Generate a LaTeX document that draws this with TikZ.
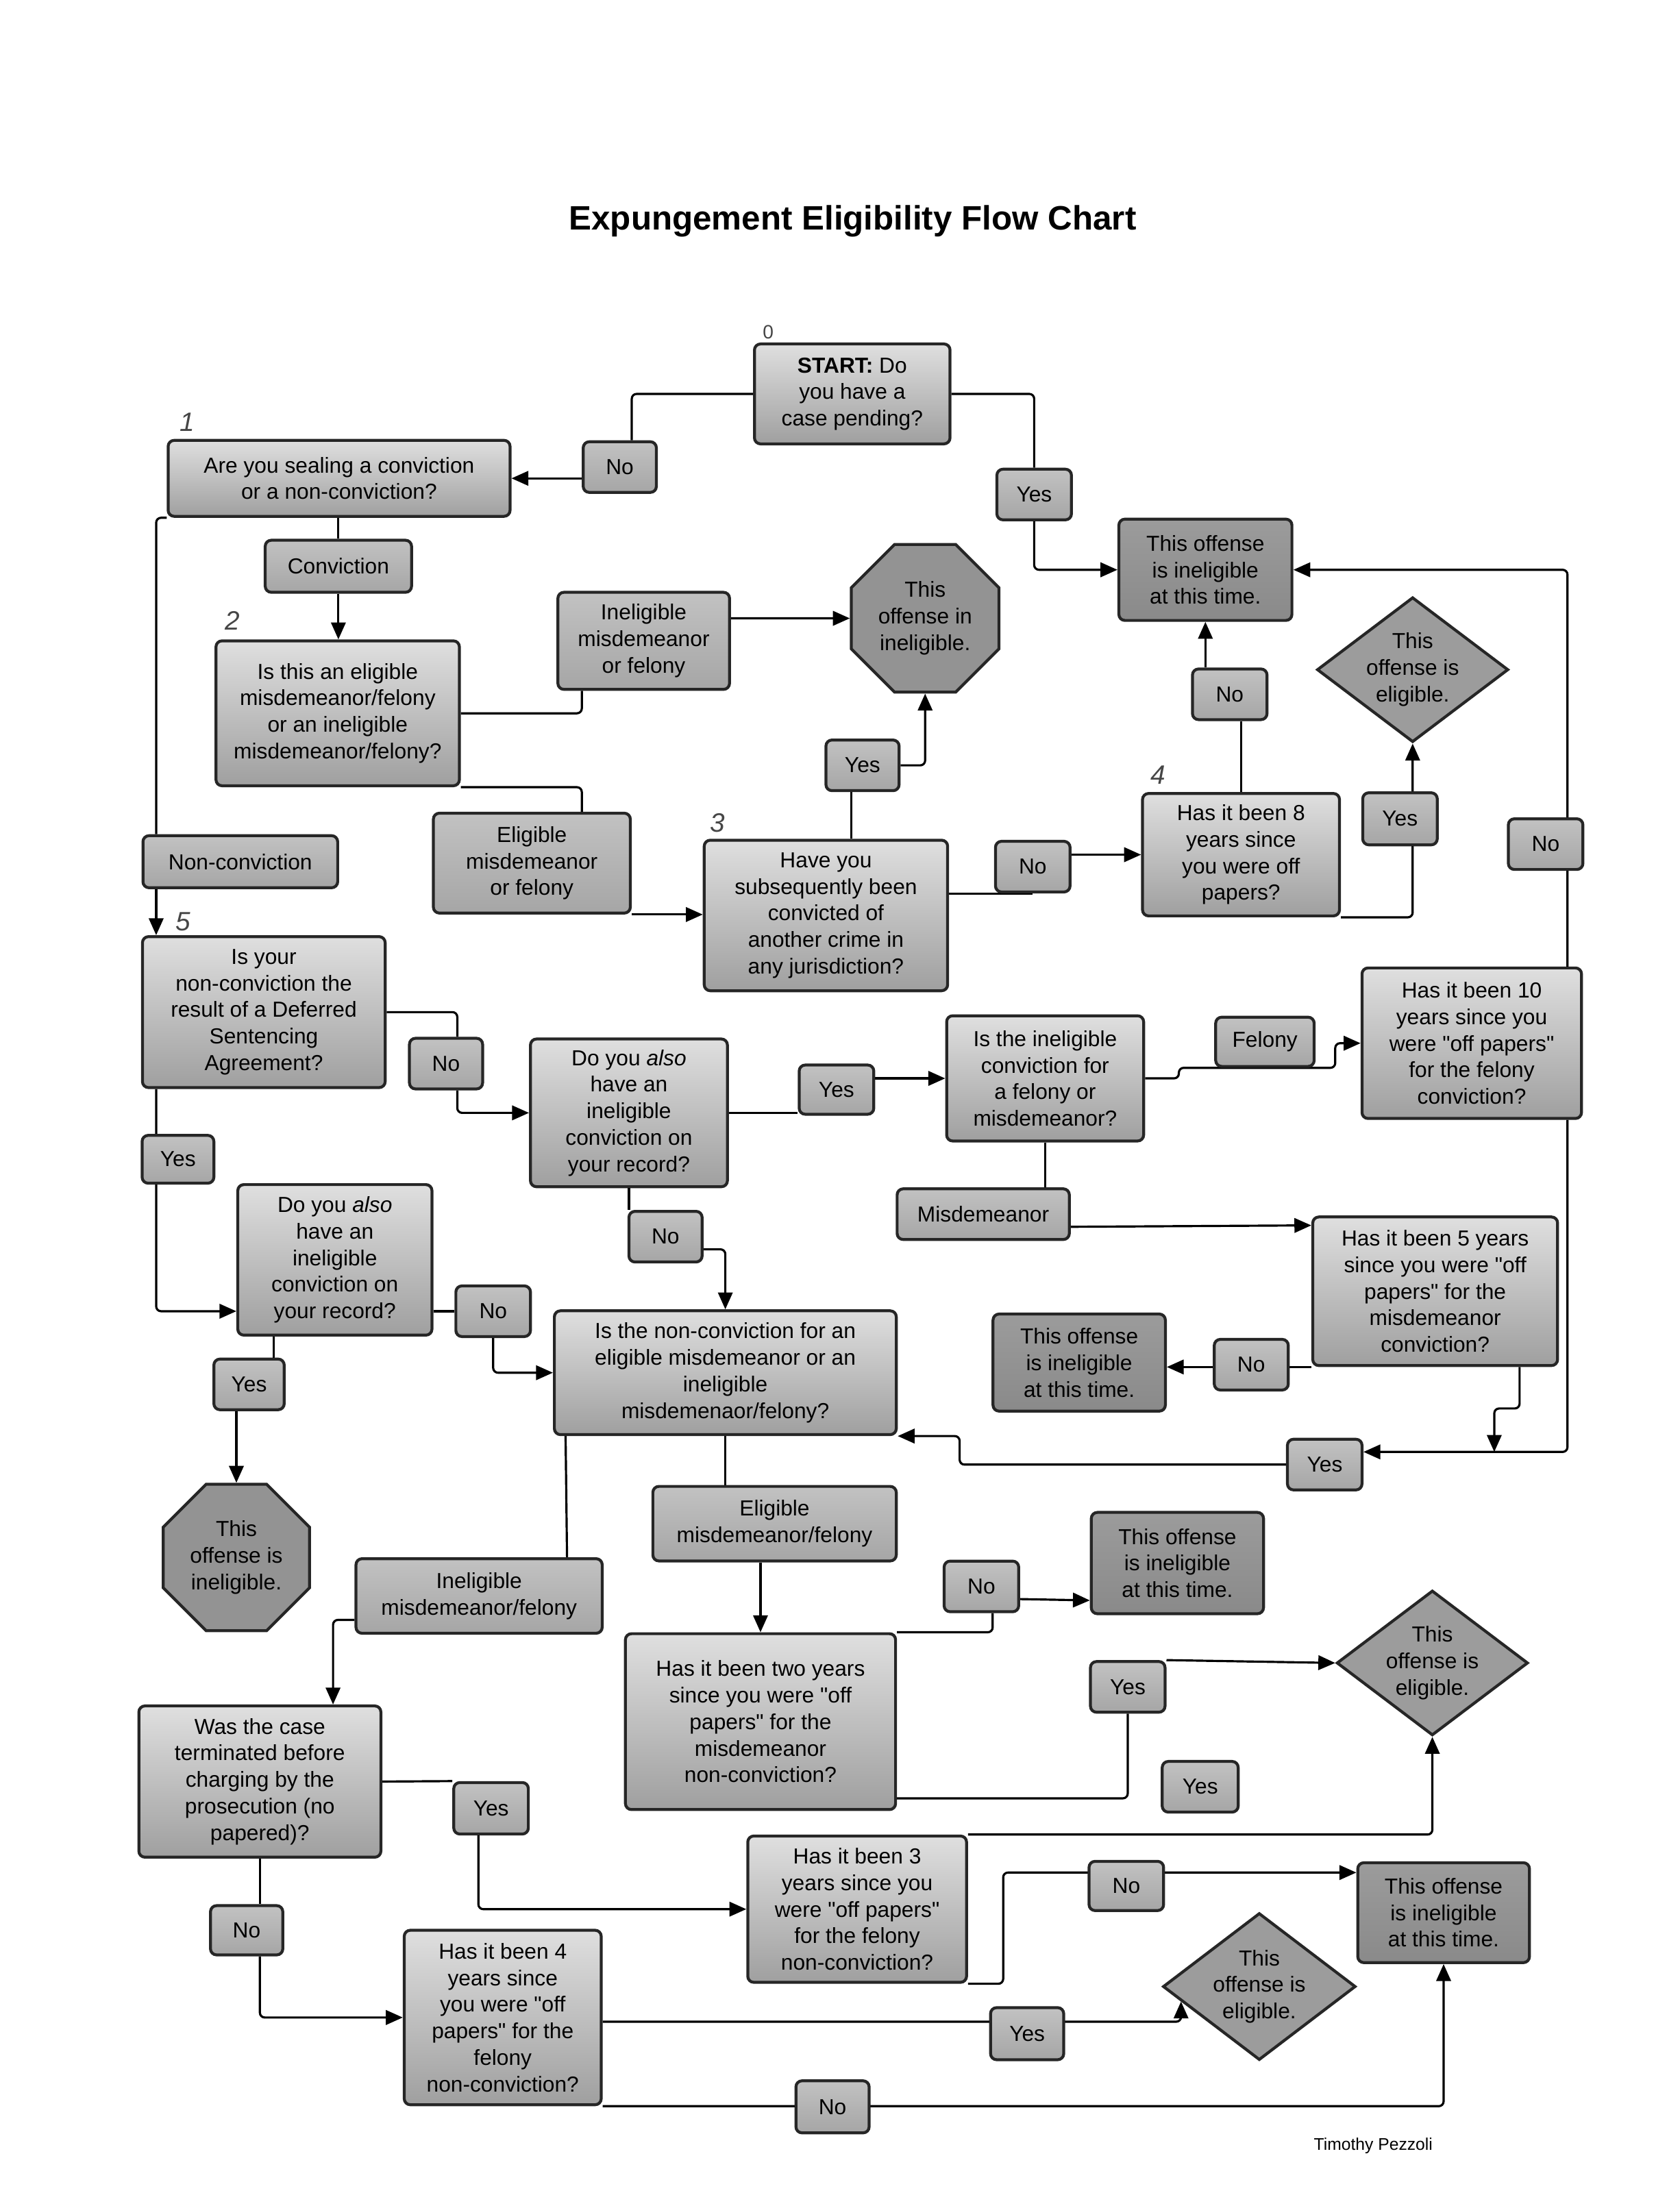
\documentclass[tikz,border=0pt]{standalone}
\usepackage{fontspec}
\setmainfont{Liberation Sans}[Ligatures=TeXOff]
\usepackage{tikz}
\usetikzlibrary{arrows.meta, positioning, shapes.geometric, calc, backgrounds}
\newcommand{\qq}{\symbol{34}}

\begin{document}
\begin{tikzpicture}[
    x=0.5827pt, y=-0.5827pt,
    every node/.style={font=\fontsize{9}{11}\selectfont, align=center, inner sep=2pt},
    sz/.style 2 args={minimum width=#1*0.5827pt, minimum height=#2*0.5827pt},
    qbox/.style={rectangle, rounded corners=2.5pt, draw=black!85, line width=1.2pt, top color=gray!25, bottom color=gray!75},
    tag/.style={rectangle, rounded corners=2.5pt, draw=black!85, line width=1.2pt, top color=gray!48, bottom color=gray!70},
    endbox/.style={rectangle, rounded corners=2.5pt, draw=black!85, line width=1.2pt, top color=gray!78, bottom color=gray!92},
    octa/.style={regular polygon, regular polygon sides=8, draw=black!85, line width=1.2pt, fill=gray!85, inner sep=0pt, minimum size=#1*0.5827pt},
    okdia/.style={diamond, aspect=1.32, draw=black!85, line width=1.2pt, fill=gray!78, inner sep=0pt},
    hand/.style={font=\fontsize{11}{11}\selectfont\itshape, text=gray!55!black},
    link/.style={line width=0.9pt, rounded corners=2pt},
    arrow/.style={link, -{Triangle[length=7pt, width=6pt]}}
]
\useasboundingbox (0,0) rectangle (1194,1568);

% Title
\node (title) [font=\fontsize{14}{16}\selectfont\bfseries] at (606,157) {Expungement Eligibility Flow Chart};

% Nodes: top part
\node (start) [qbox, sz={139}{71}] at (605.7,280) {\textbf{START:} Do\\you have a\\case pending?};
\node (no0) [tag, sz={52}{36}] at (440.5,332) {No};
\node (yes0) [tag, sz={53}{36}] at (735,351.5) {Yes};
\node (q1) [qbox, sz={243}{54}] at (241,340) {Are you sealing a conviction\\or a non-conviction?};
\node (conv) [tag, sz={104}{37}] at (240.5,402.5) {Conviction};
\node (q2) [qbox, sz={173}{103}] at (240,507) {Is this an eligible\\misdemeanor/felony\\or an ineligible\\misdemeanor/felony?};
\node (inel1) [tag, sz={122}{69}] at (457.5,455.5) {Ineligible\\misdemeanor\\or felony};
\node (stop1) [octa=113.6] at (657.5,439.5) {This\\offense in\\ineligible.};
\node (tin1) [endbox, sz={123}{72}] at (856.7,405) {This offense\\is ineligible\\at this time.};
\node (elig1) [tag, sz={140}{71}] at (378,613.5) {Eligible\\misdemeanor\\or felony};
\node (q3) [qbox, sz={173}{107}] at (587,650.7) {Have you\\subsequently been\\convicted of\\another crime in\\any jurisdiction?};
\node (yes1) [tag, sz={52}{36}] at (613,544) {Yes};
\node (no3) [tag, sz={53}{36}] at (734,616) {No};
\node (q4) [qbox, sz={140}{87}] at (882,607.5) {Has it been 8\\years since\\you were off\\papers?};
\node (no4) [tag, sz={53}{36}] at (874,493.5) {No};
\node (dia1) [okdia, sz={136}{103}] at (1004,476) {This\\offense is\\eligible.};
\node (yes4) [tag, sz={53}{37}] at (995,582) {Yes};
\node (noR) [tag, sz={53}{36}] at (1098.5,600) {No};

% Nodes: middle part
\node (nonc) [tag, sz={138.4}{37}] at (170.8,612.5) {Non-conviction};
\node (q5) [qbox, sz={172.5}{107.3}] at (187.5,719.4) {Is your\\non-conviction the\\result of a Deferred\\Sentencing\\Agreement?};
\node (no5) [tag, sz={52}{36}] at (317,756) {No};
\node (q6) [qbox, sz={140}{105}] at (447,791) {Do you \textit{also}\\have an\\ineligible\\conviction on\\your record?};
\node (yes6) [tag, sz={53}{35}] at (594.5,774.5) {Yes};
\node (q7) [qbox, sz={140}{89}] at (742.8,766.5) {Is the ineligible\\conviction for\\a felony or\\misdemeanor?};
\node (felony) [tag, sz={70}{35}] at (899,740.5) {Felony};
\node (q10) [qbox, sz={156}{107}] at (1046,741.5) {Has it been 10\\years since you\\were \qq off papers\qq\\for the felony\\conviction?};
\node (misd) [tag, sz={122.4}{36}] at (698.8,863) {Misdemeanor};
\node (q5y) [qbox, sz={174}{105.6}] at (1020,917.8) {Has it been 5 years\\since you were \qq off\\papers\qq{} for the\\misdemeanor\\conviction?};
\node (noM) [tag, sz={52.6}{36}] at (889.3,970) {No};
\node (tin2) [endbox, sz={122.5}{69}] at (767,968.5) {This offense\\is ineligible\\at this time.};
\node (yesR) [tag, sz={53}{36}] at (941.5,1041) {Yes};
\node (yesL) [tag, sz={51}{34}] at (126.5,824) {Yes};
\node (q6b) [qbox, sz={138}{107}] at (238,895.5) {Do you \textit{also}\\have an\\ineligible\\conviction on\\your record?};
\node (noB) [tag, sz={53}{36}] at (350.5,932) {No};
\node (yesB) [tag, sz={50}{36}] at (177,984) {Yes};
\node (stop2) [octa=112.6] at (168,1107) {This\\offense is\\ineligible.};
\node (no6) [tag, sz={52}{36}] at (473,879) {No};
\node (qN) [qbox, sz={243}{88}] at (515.5,975.7) {Is the non-conviction for an\\eligible misdemeanor or an\\ineligible\\misdemenaor/felony?};

% Nodes: bottom part
\node (inel2) [tag, sz={175}{53}] at (340.5,1134.4) {Ineligible\\misdemeanor/felony};
\node (elig2) [tag, sz={173}{53}] at (550.5,1083) {Eligible\\misdemeanor/felony};
\node (q2y) [qbox, sz={192}{125}] at (540.5,1223.7) {Has it been two years\\since you were \qq off\\papers\qq{} for the\\misdemeanor\\non-conviction?};
\node (noE) [tag, sz={53}{36}] at (697.5,1127.6) {No};
\node (tin3) [endbox, sz={122.4}{72}] at (836.8,1111) {This offense\\is ineligible\\at this time.};
\node (yesE) [tag, sz={53}{36}] at (801.5,1199) {Yes};
\node (dia2) [okdia, sz={136}{103}] at (1018,1182) {This\\offense is\\eligible.};
\node (yesX) [tag, sz={54}{36}] at (853,1270) {Yes};
\node (q3y) [qbox, sz={155.5}{104}] at (609.2,1357) {Has it been 3\\years since you\\were \qq off papers\qq\\for the felony\\non-conviction?};
\node (noF) [tag, sz={53}{35}] at (800.5,1340.5) {No};
\node (tin4) [endbox, sz={122}{71}] at (1026,1359.5) {This offense\\is ineligible\\at this time.};
\node (qT) [qbox, sz={172}{107.5}] at (184.7,1266.3) {Was the case\\terminated before\\charging by the\\prosecution (no\\papered)?};
\node (yesT) [tag, sz={53}{36.6}] at (349,1285.3) {Yes};
\node (noT) [tag, sz={51.4}{35}] at (175.3,1372) {No};
\node (q4y) [qbox, sz={140}{124}] at (357.3,1434) {Has it been 4\\years since\\you were \qq off\\papers\qq{} for the\\felony\\non-conviction?};
\node (yesB2) [tag, sz={52}{37}] at (730,1445.5) {Yes};
\node (dia3) [okdia, sz={137}{104.5}] at (895,1412) {This\\offense is\\eligible.};
\node (noBot) [tag, sz={52}{37}] at (591.7,1497.5) {No};
\node (author) [font=\fontsize{7}{8}\selectfont] at (976,1525) {Timothy Pezzoli};

% hand written step numbers
\node (hn0) [hand, font=\fontsize{8}{8}\selectfont] at (546,236) {0};
\node (hn1) [hand] at (133,300) {1};
\node (hn2) [hand] at (165,441) {2};
\node (hn3) [hand] at (510,585) {3};
\node (hn4) [hand] at (823,551) {4};
\node (hn5) [hand] at (130,655) {5};

\coordinate (lx) at (111,0);
\coordinate (join) at (1062,1032);

% Connectors
\begin{scope}[on background layer]
\draw[link] (start.west) -| ($(no0.north)+(8.5,0)$);
\draw[arrow] (no0.west |- q1.east) -- (q1.east);
\draw[link] (start.east) -| (yes0.north);
\draw[arrow] (yes0.south) |- (tin1.west);
\draw[link] (q1.south -| conv.north) -- (conv.north);
\draw[arrow] (conv.south) -- (conv.south |- q2.north);
\draw[link] (q1.south west) -| (lx |- nonc.north);
\draw[arrow] (lx |- nonc.south) -- (lx |- q5.north);
\draw[link] (q2.east) -| ($(inel1.south)+(-44,0)$);
\draw[arrow] ($(inel1.east)+(0,-16)$) -- (stop1.west);
\draw[link] (q2.south east) -| ($(elig1.north)+(35.5,0)$);
\draw[arrow] (elig1.south east) -- (q3.west |- elig1.south east);
\draw[link] ($(q3.north)+(18,0)$) -- ($(yes1.south)+(-8,0)$);
\draw[arrow] (yes1.east) -| (stop1.south);
\draw[link] (q3.east |- no3.south) -- (no3.south);
\draw[arrow] (no3.east |- q4.west) -- (q4.west);
\draw[link] (q4.north) -- (q4.north |- no4.south);
\draw[arrow] (no4.north -| tin1.south) -- (tin1.south);
\draw[arrow] (q4.south east) -| (dia1.south);
\draw[arrow] ($(q10.north east)+(-11,0)$) |- (tin1.east);
\draw[arrow] ($(q10.south east)+(-11,0)$) |- ($(yesR.east)+(0,-9)$);
\draw[arrow] ($(q5y.south)+(60,0)$) -- ++(0,29.5) -| (join);
\draw[arrow] (yesR.west) -| ($(qN.south east)+(44,0)$) -- (qN.south east);

\draw[link] (q5.east) -| ($(no5.north)+(8,0)$);
\draw[arrow] ($(no5.south)+(8,0)$) |- (q6.west);
\draw[link] (q6.east) -- (q6.east -| yes6.west);
\draw[arrow] ($(yes6.east)+(0,-8)$) -- (q7.west);
\draw[arrow] (q7.east) -- ++(24,0) -- ++(0,-7.5) -| ($(q10.west)+(-18,0)$) -- (q10.west);
\draw[link] (q7.south) -- (q7.south |- misd.north);
\draw[arrow] ($(misd.east)+(0,9)$) -- ($(q5y.north west)+(0,7)$);
\draw[arrow] (q5y.south west) -- (tin2.east |- q5y.south west);
\draw[link] (q6.south) -- (q6.south |- no6.north);
\draw[arrow] ($(no6.east)+(0,9)$) -| (qN.north);
\draw[arrow] (lx |- q5.south) |- (q6b.west |- noB.west);
\draw[link] (q6b.east |- noB.west) -- (noB.west);
\draw[arrow] (noB.south) |- (qN.west);
\draw[link] ($(q6b.south)+(-43.5,0)$) -- ($(yesB.north)+(17.5,0)$);
\draw[arrow] (yesB.south -| stop2.north) -- (stop2.north);

\draw[link] ($(qN.south west)+(9,0)$) -- ($(inel2.north)+(62.5,0)$);
\draw[arrow] ($(inel2.west)+(0,17)$) -| ($(qT.north)+(52,0)$);
\draw[link] (qN.south) -- (qN.south |- elig2.north);
\draw[arrow] (q2y.north |- elig2.south) -- (q2y.north);
\draw[link] (q2y.north east) -| ($(noE.south)+(8,0)$);
\draw[arrow] ($(noE.east)+(0,9)$) -- ($(tin3.south west)+(0,-10.5)$);
\draw[link] ($(q2y.south east)+(0,-9)$) -| (yesE.south);
\draw[arrow] (yesE.north east) -- (dia2.west);
\draw[arrow] (q3y.north east) -| (dia2.south);
\draw[arrow] (q3y.south east) -- ++(25,0) |- ($(tin4.north west)+(0,8)$);
\draw[link] (qT.east) -- (yesT.north west);
\draw[arrow] ($(yesT.south)+(-9,0)$) |- (q3y.west);
\draw[link] (qT.south) -- (qT.south |- noT.north);
\draw[arrow] (qT.south |- noT.south) |- (q4y.west);
\draw[arrow] ($(q4y.east)+(0,3)$) -| ($(dia3.south)!0.8!(dia3.west)$);
\draw[arrow] (q4y.south east) -| (tin4.south);
\end{scope}
\end{tikzpicture}
\end{document}
